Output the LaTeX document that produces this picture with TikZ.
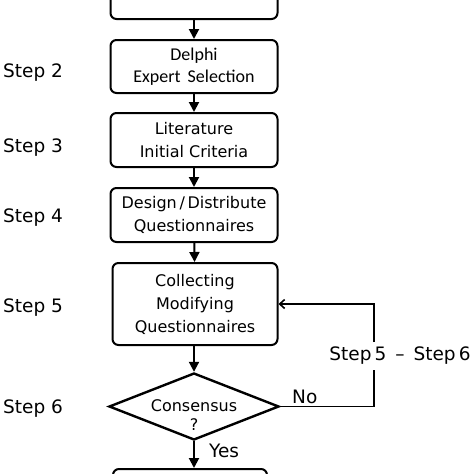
\documentclass[tikz,border=0pt]{standalone}
\usepackage{fontspec}
\setmainfont{DejaVu Sans}
\newfontfamily\calfont{Carlito}
\usetikzlibrary{arrows.meta,shapes.geometric}
\begin{document}
\begin{tikzpicture}[x=1pt,y=-1pt,
  box/.style={draw,line width=2pt,rounded corners=6pt,minimum width=167pt,inner sep=0pt,align=center,font=\fontsize{16}{23}\selectfont},
  arr/.style={line width=2pt,-{Triangle[length=10pt,width=10pt]}},
  loopline/.style={line width=1.6pt},
  steplab/.style={anchor=base west,inner sep=0pt,font=\fontsize{18.5}{22}\selectfont},
  lab/.style={inner sep=0pt,font=\fontsize{18.5}{22}\selectfont}]
\useasboundingbox (0,0) rectangle (474,474);
\clip (0,0) rectangle (474,474);
\node[box,minimum height=60pt] (b1) at (194,-11) {};
\node[box,minimum height=53pt] (b2) at (194,66.5) {\calfont\fontsize{18}{23}\selectfont Delphi\\[-1pt]\calfont\fontsize{18}{23}\selectfont Expert\, Selection};
\node[box,minimum height=54pt] (b3) at (194,140) {Literature\\Initial Criteria};
\node[box,minimum height=54pt] (b4) at (194,215) {Design\,/\,Distribute\\Questionnaires};
\node[box,minimum height=82pt,minimum width=165pt] (b5) at (195,304) {Collecting\\Modifying\\Questionnaires};
\node[diamond,draw,line width=2.4pt,minimum width=170pt,minimum height=67pt,inner sep=0pt,aspect=2.5] (d) at (194,406.5) {};
\node[inner sep=0pt,align=center,font=\fontsize{16}{19}\selectfont] (dt) at (194,415) {Consensus\\?};
\node[box,minimum height=60pt,minimum width=154pt] (b6) at (190,499) {};
\draw[arr] (b1) -- (b2);
\draw[arr] (b2) -- (b3);
\draw[arr] (b3) -- (b4);
\draw[arr] (b4) -- (b5);
\draw[arr] (b5.south -| d.north) -- (d.north);
\draw[arr] (d.south) -- (d.south |- b6.north);
\node[steplab] (s2) at (3,77) {Step 2};
\node[steplab] (s3) at (3,152) {Step 3};
\node[steplab] (s4) at (3,222) {Step 4};
\node[steplab] (s5) at (3,312) {Step 5};
\node[steplab] (s6) at (3,413) {Step 6};
\node[lab] (l56) at (400,356) {Step\,5 \,–\, Step\,6};
\node[lab,anchor=base west] (no) at (292,403) {No};
\node[lab,anchor=base west] (yes) at (209,457) {Yes};
\coordinate (c1) at (374,370);
\coordinate (c2) at (374,342);
\draw[loopline] (d.east) -| (c1);
\draw[loopline,-{Straight Barb[length=5pt,width=9pt]}] (c2) |- (b5.east);
\end{tikzpicture}
\end{document}
